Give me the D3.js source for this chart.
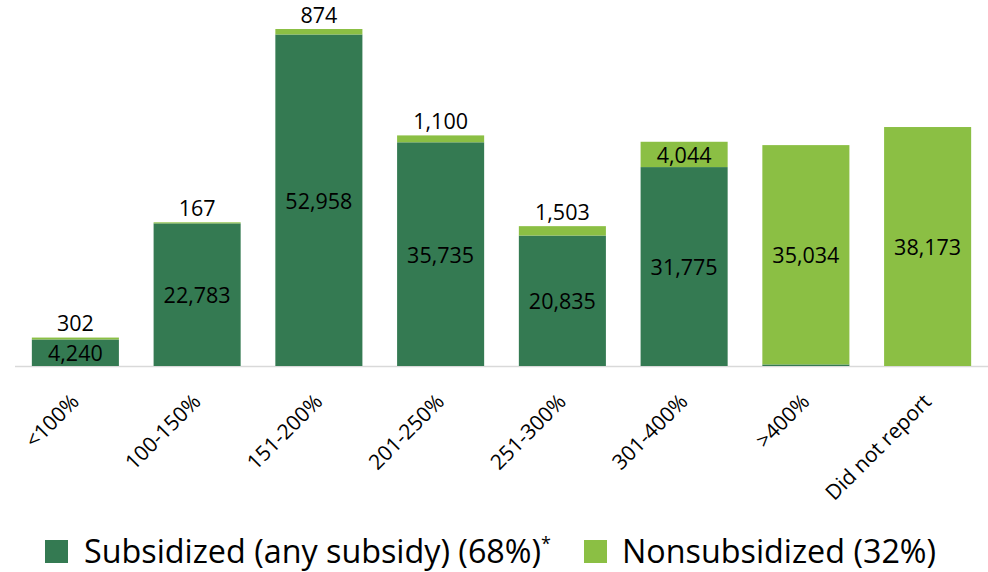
<!DOCTYPE html>
<html>
<head>
<meta charset="utf-8">
<script src="https://cdn.jsdelivr.net/npm/d3@7"></script>
<style>
  html, body { margin: 0; padding: 0; background: #fff; }
  svg { display: block; font-family: "Open Sans", "Noto Sans", sans-serif; }
</style>
</head>
<body>
<svg id="chart" width="988" height="572"></svg>
<script>
const categories = ["<100%", "100-150%", "151-200%", "201-250%", "251-300%", "301-400%", ">400%", "Did not report"];
const subsidized = [4240, 22783, 52958, 35735, 20835, 31775, 250, 0];
const nonsubsidized = [302, 167, 874, 1100, 1503, 4044, 35034, 38173];
const seriesNames = ["Subsidized (any subsidy) (68%)", "Nonsubsidized (32%)"];
const colors = ["#347A52", "#8BBF44"];

const svg = d3.select("#chart");
const baseY = 366;

const x = d3.scaleBand().domain(categories).range([14.5, 988.5]).paddingInner(0.285).paddingOuter(0.1425);
const y = d3.scaleLinear().domain([0, 54000]).range([baseY, baseY - 54000 * 337 / 53832]);

const fmt = d3.format(",");
const data = categories.map((c, i) => ({ c, s: subsidized[i], n: nonsubsidized[i] }));

// axis line
svg.append("line")
  .attr("x1", 15).attr("x2", 988)
  .attr("y1", baseY + 0.5).attr("y2", baseY + 0.5)
  .attr("stroke", "#d9d9d9").attr("stroke-width", 1.5);

const g = svg.append("g");
const bars = g.selectAll("g.bar").data(data).join("g").attr("class", "bar");

// subsidized segment
bars.filter(d => d.s > 0).append("rect")
  .attr("x", d => x(d.c)).attr("width", x.bandwidth())
  .attr("y", d => y(d.s)).attr("height", d => y(0) - y(d.s))
  .attr("fill", colors[0]);

// nonsubsidized segment
bars.append("rect")
  .attr("x", d => x(d.c)).attr("width", x.bandwidth())
  .attr("y", d => y(d.s + d.n)).attr("height", d => y(d.s) - y(d.s + d.n))
  .attr("fill", colors[1]);

// labels for subsidized (inside)
bars.filter(d => d.s > 1000).append("text")
  .attr("x", d => x(d.c) + x.bandwidth() / 2)
  .attr("y", d => (y(0) + y(d.s)) / 2)
  .attr("text-anchor", "middle").attr("dominant-baseline", "central")
  .attr("font-size", 21.5).attr("fill", "#000")
  .text(d => fmt(d.s));

// labels for nonsubsidized
bars.append("text")
  .attr("x", d => x(d.c) + x.bandwidth() / 2)
  .attr("y", d => {
    const h = y(d.s) - y(d.s + d.n);
    return h > 22 ? (y(d.s) + y(d.s + d.n)) / 2 : y(d.s + d.n) - 15;
  })
  .attr("text-anchor", "middle").attr("dominant-baseline", "central")
  .attr("font-size", 21.5).attr("fill", "#000")
  .text(d => fmt(d.n));

// category labels
svg.append("g").selectAll("text").data(categories).join("text")
  .attr("transform", c => `translate(${x(c) + x.bandwidth() / 2 + 5},${403}) rotate(-45)`)
  .attr("text-anchor", "end")
  .attr("font-size", 21).attr("fill", "#000")
  .text(c => c);

// legend
const leg = svg.append("g");
leg.append("rect").attr("x", 45).attr("y", 540).attr("width", 23).attr("height", 23).attr("fill", colors[0]);
const t1 = leg.append("text").attr("x", 84).attr("y", 563).attr("font-size", 32.3).attr("fill", "#000");
t1.append("tspan").text(seriesNames[0]);
t1.append("tspan").attr("font-size", 18).attr("dy", -13).text("*");
leg.append("rect").attr("x", 584).attr("y", 540).attr("width", 23).attr("height", 23).attr("fill", colors[1]);
leg.append("text").attr("x", 622).attr("y", 563).attr("font-size", 32.3).attr("fill", "#000").text(seriesNames[1]);
</script>
</body>
</html>
